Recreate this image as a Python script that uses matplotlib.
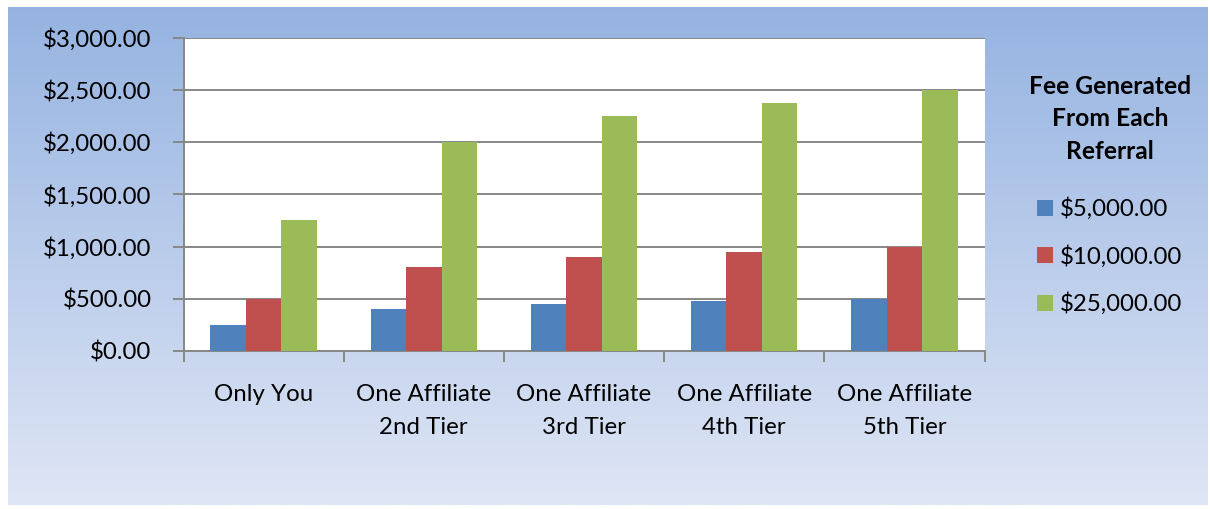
import numpy as np
import matplotlib
matplotlib.use("Agg")
import matplotlib.pyplot as plt
from matplotlib.patches import Patch
from matplotlib.ticker import FuncFormatter

# ----------------------------
# Data
# ----------------------------
categories = ["Only You", "One Affiliate\n2nd Tier", "One Affiliate\n3rd Tier",
              "One Affiliate\n4th Tier", "One Affiliate\n5th Tier"]
series_names = ["$5,000.00", "$10,000.00", "$25,000.00"]
fee_5k = [250, 400, 450, 475, 500]
fee_10k = [500, 800, 900, 950, 1000]
fee_25k = [1250, 2000, 2250, 2375, 2500]
colors = ["#4F81BD", "#C0504D", "#9BBB59"]

plt.rcParams['font.family'] = ['Lato', 'DejaVu Sans']
FS = 17.3
W, H = 1210, 509
fig = plt.figure(figsize=(W / 100, H / 100), dpi=100)
fig.patch.set_facecolor("white")

# gradient background panel
bg = fig.add_axes([8 / W, (H - 505) / H, 1200 / W, 498 / H], zorder=0)
top = np.array([0x95, 0xB3, 0xE1]) / 255
bot = np.array([0xDF, 0xE6, 0xF5]) / 255
t = np.linspace(0, 1, 256)[:, None]
grad = (top[None, :] * (1 - t) + bot[None, :] * t)[:, None, :]
bg.imshow(grad, aspect="auto", extent=[0, 1, 0, 1])
bg.set_axis_off()

ax = fig.add_axes([183.5 / W, (H - 351) / H, 801 / W, 313.5 / H], zorder=1)
ax.set_facecolor("white")

x = np.arange(len(categories))
w = 0.221
for i, (vals, name) in enumerate(zip([fee_5k, fee_10k, fee_25k], series_names)):
    ax.bar(x + (i - 1) * w, vals, width=w, color=colors[i], zorder=3, label=name)

ax.set_xlim(-0.5, len(categories) - 0.5)
ax.set_ylim(0, 3000)
ax.set_yticks(np.arange(0, 3001, 500))
ax.yaxis.set_major_formatter(FuncFormatter(lambda v, p: f"${v:,.2f}"))
ax.grid(axis="y", color="#878787", linewidth=1.4, zorder=1)

# category boundaries as major ticks, labels at centers
ax.set_xticks(np.arange(-0.5, len(categories)), labels=[""] * (len(categories) + 1))
ax.set_xticks(x, labels=categories, minor=True)
ax.tick_params(axis="x", which="major", length=8, width=1.4, color="#878787")
ax.tick_params(axis="x", which="minor", length=0, pad=24, labelsize=FS)
ax.tick_params(axis="y", length=8, width=1.4, color="#878787", pad=15, labelsize=FS)
for lab in ax.get_xticklabels(minor=True):
    lab.set_linespacing(1.7)

for s in ["top", "right"]:
    ax.spines[s].set_visible(False)
for s in ["left", "bottom"]:
    ax.spines[s].set_color("#878787")
    ax.spines[s].set_linewidth(1.4)

handles = [Patch(facecolor=c) for c in colors]
leg = fig.legend(handles, series_names, loc="center",
                 bbox_to_anchor=(1110 / W, 1 - 195 / H),
                 frameon=False, fontsize=FS, handlelength=0.65, handleheight=0.65,
                 handletextpad=0.3, labelspacing=1.03,
                 title="Fee Generated\nFrom Each\nReferral",
                 title_fontproperties={"weight": "bold", "size": FS + 0.4})
leg.get_title().set_multialignment("center")
leg.get_title().set_linespacing(1.5)
leg._legend_box.sep = 25

fig.savefig("out.png", dpi=100)
